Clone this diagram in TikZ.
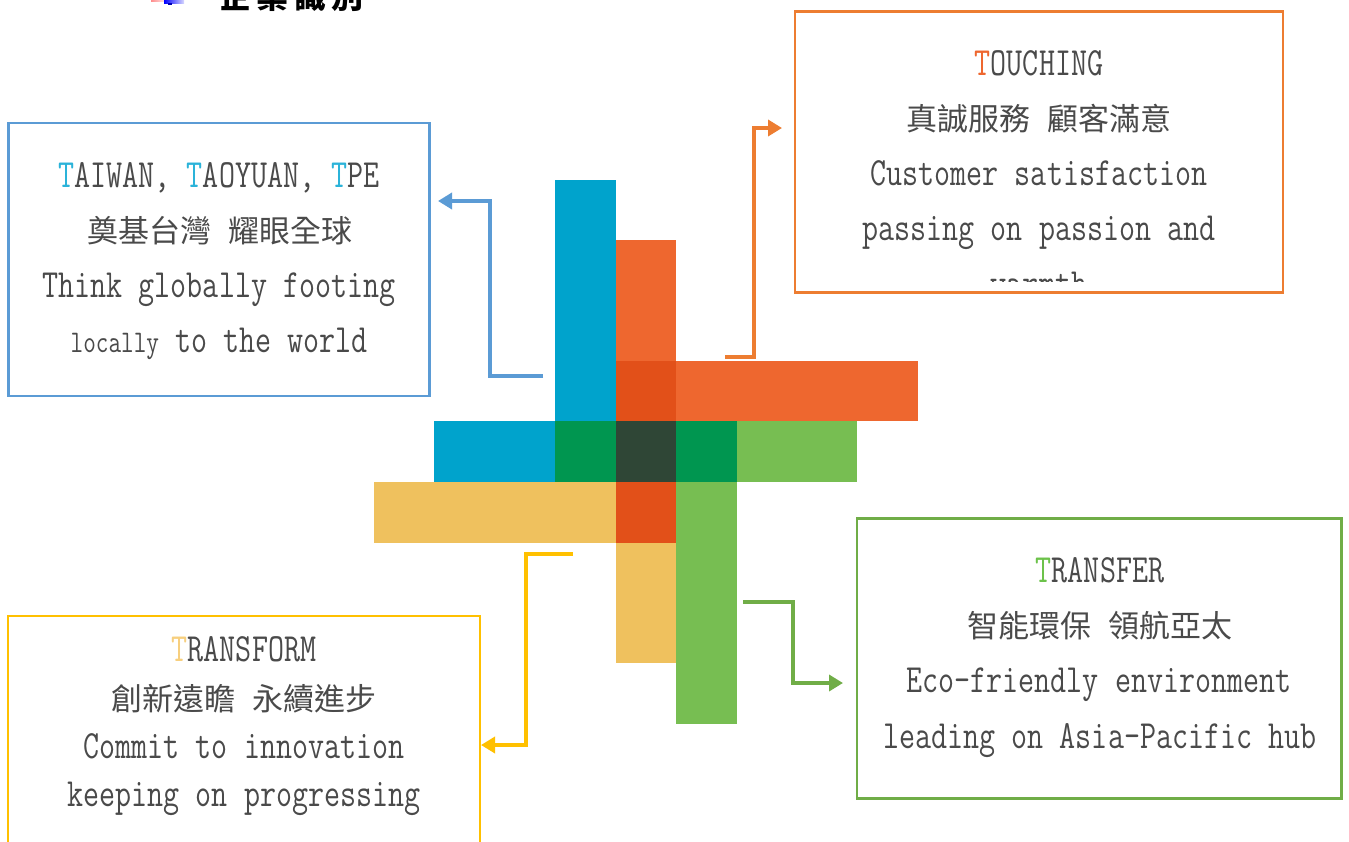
\documentclass[tikz,border=0pt]{standalone}
\usepackage{fontspec}
\usetikzlibrary{arrows.meta}
\newfontfamily\latinf[FakeStretch=0.778]{Latin Modern Mono}
\newfontfamily\cjkf{Noto Sans CJK TC}
\newcommand{\zhgap}{\kern17pt\relax}
\definecolor{cblue}{HTML}{00A3CC}
\definecolor{corange}{HTML}{EE672F}
\definecolor{cgreen}{HTML}{77BE52}
\definecolor{cyellow}{HTML}{EFC15E}
\definecolor{covo}{HTML}{E25019}
\definecolor{covg}{HTML}{009650}
\definecolor{covc}{HTML}{2F4636}
\definecolor{lblue}{HTML}{5B9BD5}
\definecolor{lorange}{HTML}{ED7D31}
\definecolor{lyellow}{HTML}{FFC000}
\definecolor{lgreen}{HTML}{70AD47}
\definecolor{tgrey}{HTML}{4A4A4A}
\definecolor{tblue}{HTML}{2BB3D9}
\definecolor{torange}{HTML}{EE672F}
\definecolor{tyellow}{HTML}{F7CF7E}
\definecolor{tgreen}{HTML}{6CC24A}
\tikzset{
  x=1pt,y=-1pt,
  tbox/.style={draw=#1,line width=2.8pt,fill=white,inner sep=0pt,outer sep=0pt},
  en/.style={anchor=base,inner sep=0pt,text=tgrey,font=\fontsize{40}{40}\latinf},
  zh/.style={anchor=base,inner sep=0pt,text=tgrey,font=\fontsize{31}{31}\cjkf},
  conn/.style={draw=#1,line width=3.6pt,-{Triangle[length=14pt,width=16pt]}}
}
\begin{document}
\begin{tikzpicture}
\clip (0,0) rectangle (1349,841);
\fill[white] (0,0) rectangle (1349,841);
% bars
\fill[cblue] (555,180) rectangle (616,482);
\fill[cblue] (434,421) rectangle (555,482);
\fill[corange] (616,240) rectangle (676,361);
\fill[corange] (676,361) rectangle (918,421);
\fill[covo] (616,361) rectangle (676,421);
\fill[cgreen] (737,421) rectangle (857,482);
\fill[cgreen] (676,482) rectangle (737,724);
\fill[cyellow] (374,482) rectangle (616,543);
\fill[cyellow] (616,543) rectangle (676,663);
\fill[covo] (616,482) rectangle (676,543);
\fill[covg] (555,421) rectangle (616,482);
\fill[covg] (676,421) rectangle (737,482);
\fill[covc] (616,421) rectangle (676,482);
% header
\fill[left color=red!45,right color=red!10] (151,-1) rectangle (165,1);
\fill[left color=blue,right color=blue!15] (164,-1) rectangle (184,3);
\fill[blue!70!black] (168,3) rectangle (172,5);
\node[anchor=base,inner sep=0pt,font=\fontsize{32}{32}\cjkf\bfseries] (head) at (291.5,8.5) {企\kern5.5pt 業\kern5.5pt 識\kern5.5pt 別};
% boxes
\node[tbox=lblue,minimum width=421pt,minimum height=273pt] (boxblue) at (219,259.5) {};
\node[tbox=lorange,minimum width=488pt,minimum height=281.5pt] (boxorange) at (1039,152) {};
\node[tbox=lyellow,minimum width=472pt,minimum height=280pt] (boxyellow) at (244,756) {};
\node[tbox=lgreen,minimum width=484.5pt,minimum height=280.5pt] (boxgreen) at (1099.3,658.5) {};
% blue text
\node[en] (b1) at (219,187) {\textcolor{tblue}{T}AIWAN, \textcolor{tblue}{T}AOYUAN, \textcolor{tblue}{T}PE};
\node[zh] (b2) at (220,242) {奠基台灣\zhgap 耀眼全球};
\node[en] (b3) at (219,297) {Think globally footing};
\node[en] (b4) at (219,352) {{\fontsize{31.5}{31}\latinf locally} to the world};
% orange text
\node[en] (o1) at (1039,75) {\textcolor{torange}{T}OUCHING};
\node[zh] (o2) at (1039,130) {真誠服務\zhgap 顧客滿意};
\node[en] (o3) at (1039,185) {Customer satisfaction};
\node[en] (o4) at (1039,240) {passing on passion and};
\begin{scope}
\clip (800,250) rectangle (1280,281);
\node[en] (o5) at (1039,296) {warmth};
\end{scope}
% yellow text
\node[en] (y1) at (244,661) {\textcolor{tyellow}{T}RANSFORM};
\node[zh] (y2) at (244,710) {創新遠瞻\zhgap 永續進步};
\node[en] (y3) at (244,758) {Commit to innovation};
\node[en] (y4) at (244,806) {keeping on progressing};
% green text
\node[en] (g1) at (1100,582) {\textcolor{tgreen}{T}RANSFER};
\node[zh] (g2) at (1100,637) {智能環保\zhgap 領航亞太};
\node[en] (g3) at (1099,692) {Eco-friendly environment};
\node[en] (g4) at (1100,748) {leading on Asia-Pacific hub};
% connectors
\coordinate (bs) at (543,376); \coordinate (bm) at (490,290); \coordinate (be) at (438,201);
\coordinate (os) at (725,357); \coordinate (om) at (754,240); \coordinate (oe) at (782,128);
\coordinate (ys) at (573,554); \coordinate (ym) at (526,650); \coordinate (ye) at (481,745);
\coordinate (gs) at (743,602); \coordinate (gm) at (793,640); \coordinate (ge) at (843,683);
\draw[conn=lblue] (bs) -| (bm) |- (be);
\draw[conn=lorange] (os) -| (om) |- (oe);
\draw[conn=lyellow] (ys) -| (ym) |- (ye);
\draw[conn=lgreen] (gs) -| (gm) |- (ge);
\end{tikzpicture}
\end{document}
